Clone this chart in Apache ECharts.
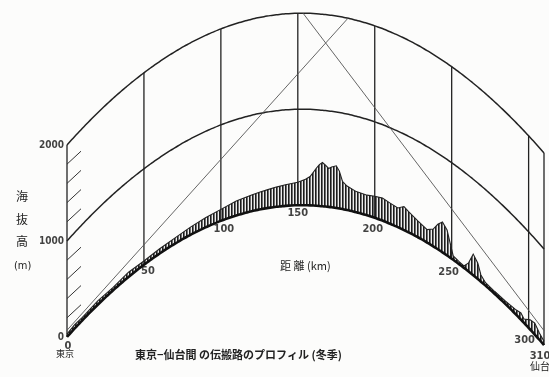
<!DOCTYPE html>
<html>
<head>
<meta charset="utf-8">
<script src="https://cdn.jsdelivr.net/npm/echarts@6/dist/echarts.min.js"></script>
<style>
  html, body { margin: 0; padding: 0; background: #fcfcfb; }
  #chart { width: 549px; height: 377px; }
</style>
</head>
<body>
<div id="chart"></div>
<script>
// Path profile Tokyo – Sendai, drawn on a 4/3-earth curved datum.

// Terrain along the path: distance from Tokyo (km) and ground height (m)
const distKm = [0, 5, 10, 20, 30, 40, 50, 60, 70, 80, 90, 100, 110, 120, 125, 130, 136, 142, 150,
  155, 158, 162, 164, 166, 168, 170, 172, 175, 177, 179, 182, 188, 195, 200, 205, 210, 215, 219,
  222, 228, 234, 238, 241, 244, 247, 249, 251, 255, 258, 261, 264, 267, 269, 272, 278, 285, 292,
  295, 297, 301, 304, 307, 310];
const elevM = [30, 40, 30, 40, 30, 50, 40, 50, 60, 80, 100, 120, 150, 170, 180, 190, 205, 220, 240,
  270, 300, 390, 430, 455, 430, 400, 420, 440, 390, 290, 250, 215, 210, 225, 235, 215, 200, 245,
  215, 170, 135, 180, 260, 315, 265, 150, 40, 25, 20, 90, 220, 165, 70, 30, 25, 30, 50,
  70, 40, 100, 120, 70, 40];

// Distance grid lines and their labels
const gridKm = [0, 50, 100, 150, 200, 250, 300, 310];
const kmLabels = ['0', '50', '100', '150', '200', '250', '300', '310'];
// Height curves drawn parallel to sea level (m)
const levelCurves = [1000, 2000];
const heightLabels = ['0', '1000', '2000'];
const heightLabelValues = [0, 1000, 2000];
// Hatch ticks on the height scale (m)
const scaleTicks = [200, 400, 600, 800, 1200, 1400, 1600, 1800];
// Straight rays: [km, height m]
const rayA = [[0, 70], [182.6, 2000]];
const rayB = [[153.4, 2000], [310, 150]];

// Earth curvature: effective radius factor k, radius (km), apex of the datum arc (km)
const EARTH_K = 4 / 3;
const EARTH_R = 6370;
const APEX_KM = 152.7;
const PATH_KM = 310;
const K = 2 * EARTH_K * EARTH_R / 1000; // km^2 per metre of drop

function drop(d) { return -((d - APEX_KM) * (d - APEX_KM)) / K; }
function onDatum(d, h) { return [d, h + drop(d)]; }

const samples = [];
for (let d = 0; d <= PATH_KM; d += 2) samples.push(d);

// vertical hatch pattern for the terrain
const pat = document.createElement('canvas');
pat.width = 3; pat.height = 4;
const pc = pat.getContext('2d');
pc.fillStyle = '#eeeeee'; pc.fillRect(0, 0, 3, 4);
pc.fillStyle = '#1c1c1c'; pc.fillRect(0, 0, 1, 4);
pc.fillStyle = '#6e6e6e'; pc.fillRect(1, 0, 1, 4);

const INK = '#222';
const numFont = '"Liberation Sans Narrow", "DejaVu Sans Condensed", sans-serif';
const jpFont = '"Noto Sans CJK JP", sans-serif';

// label offsets from each grid line's sea-level point
const kmLabelOffsets = [[1, 9], [4, 6], [3, 8], [0, 8], [-2, 11], [-3, 13], [-4, 12], [-4, 11]];

const chart = echarts.init(document.getElementById('chart'), null, { renderer: 'canvas' });

const series = [];

// terrain: hatched band between sea level and the ground line
series.push({
  type: 'custom', silent: true, z: 3,
  data: distKm.map((d, i) => [d, elevM[i]]),
  renderItem: (params, api) => {
    if (params.dataIndex !== 0) return null;
    const top = distKm.map((d, i) => api.coord(onDatum(d, elevM[i])));
    const base = distKm.slice().reverse().map(d => api.coord(onDatum(d, 0)));
    return {
      type: 'group',
      children: [
        { type: 'polygon', shape: { points: top.concat(base) },
          style: { fill: { image: pat, repeat: 'repeat' } } },
        { type: 'polyline', shape: { points: top },
          style: { stroke: INK, lineWidth: 1.1, fill: null } }
      ]
    };
  }
});
// sea-level curve
series.push({
  type: 'line', silent: true, symbol: 'none', smooth: true,
  data: samples.map(d => onDatum(d, 0)),
  lineStyle: { color: '#111', width: 2.6 }, z: 5
});
// height curves
levelCurves.forEach(h => {
  series.push({
    type: 'line', silent: true, symbol: 'none', smooth: true,
    data: samples.map(d => onDatum(d, h)),
    lineStyle: { color: INK, width: 1.5 }, z: 4
  });
});
// distance grid lines from sea level up to the top curve
series.push({
  type: 'custom', silent: true, z: 4,
  data: gridKm.map(d => [d, 0]),
  renderItem: (params, api) => {
    const d = api.value(0);
    const a = api.coord(onDatum(d, 0));
    const b = api.coord(onDatum(d, levelCurves[levelCurves.length - 1]));
    return { type: 'line', shape: { x1: a[0], y1: a[1], x2: b[0], y2: b[1] },
      style: { stroke: INK, lineWidth: 1.3 } };
  }
});
// hatch ticks on the height scale
series.push({
  type: 'custom', silent: true, z: 4,
  data: scaleTicks.map(h => [0, h]),
  renderItem: (params, api) => {
    const p = api.coord(onDatum(0, api.value(1)));
    return { type: 'line', shape: { x1: p[0], y1: p[1], x2: p[0] + 14, y2: p[1] - 13 },
      style: { stroke: '#333', lineWidth: 1 } };
  }
});
// rays
[rayA, rayB].forEach(r => {
  series.push({
    type: 'line', silent: true, symbol: 'none',
    data: r.map(p => onDatum(p[0], p[1])),
    lineStyle: { color: '#555', width: 0.9 }, z: 4
  });
});
// distance labels
series.push({
  type: 'scatter', silent: true, symbolSize: 0, z: 6,
  data: gridKm.map((d, i) => ({
    value: onDatum(d, 0),
    label: { show: true, formatter: kmLabels[i], offset: kmLabelOffsets[i] }
  })),
  label: { position: 'inside', color: '#111', fontFamily: numFont, fontSize: 11, fontWeight: 'bold' }
});
// height labels
series.push({
  type: 'scatter', silent: true, symbolSize: 0, z: 6,
  data: heightLabelValues.map((h, i) => ({
    value: onDatum(0, h),
    label: { show: true, formatter: heightLabels[i] }
  })),
  label: { position: 'left', distance: 3, color: '#111', fontFamily: numFont, fontSize: 10, fontWeight: 'bold' }
});

chart.setOption({
  backgroundColor: '#fcfcfb',
  animation: false,
  grid: { left: 67, width: 477, top: 3.6, height: 364.8, containLabel: false },
  xAxis: { type: 'value', min: 0, max: PATH_KM, show: false },
  yAxis: { type: 'value', min: -1700, max: 2100, show: false },
  series: series,
  graphic: [
    { type: 'text', left: 16, top: 190, style: { text: '海', font: '12px ' + jpFont, fill: '#222' } },
    { type: 'text', left: 16, top: 213, style: { text: '抜', font: '12px ' + jpFont, fill: '#222' } },
    { type: 'text', left: 16, top: 235, style: { text: '高', font: '12px ' + jpFont, fill: '#222' } },
    { type: 'text', left: 14, top: 261, style: { text: '(m)', font: '11px ' + numFont, fill: '#222' } },
    { type: 'text', left: 280, top: 260, style: { text: '距 離 (km)', font: '11px ' + jpFont, fill: '#222' } },
    { type: 'text', left: 56, top: 349, style: { text: '東京', font: '9px ' + jpFont, fill: '#222' } },
    { type: 'text', left: 530, top: 361, style: { text: '仙台', font: '10px ' + jpFont, fill: '#222' } },
    { type: 'text', left: 135, top: 349, style: { text: '東京−仙台間 の伝搬路のプロフィル (冬季)', font: 'bold 11px ' + jpFont, fill: '#222' } }
  ]
});
</script>
</body>
</html>
